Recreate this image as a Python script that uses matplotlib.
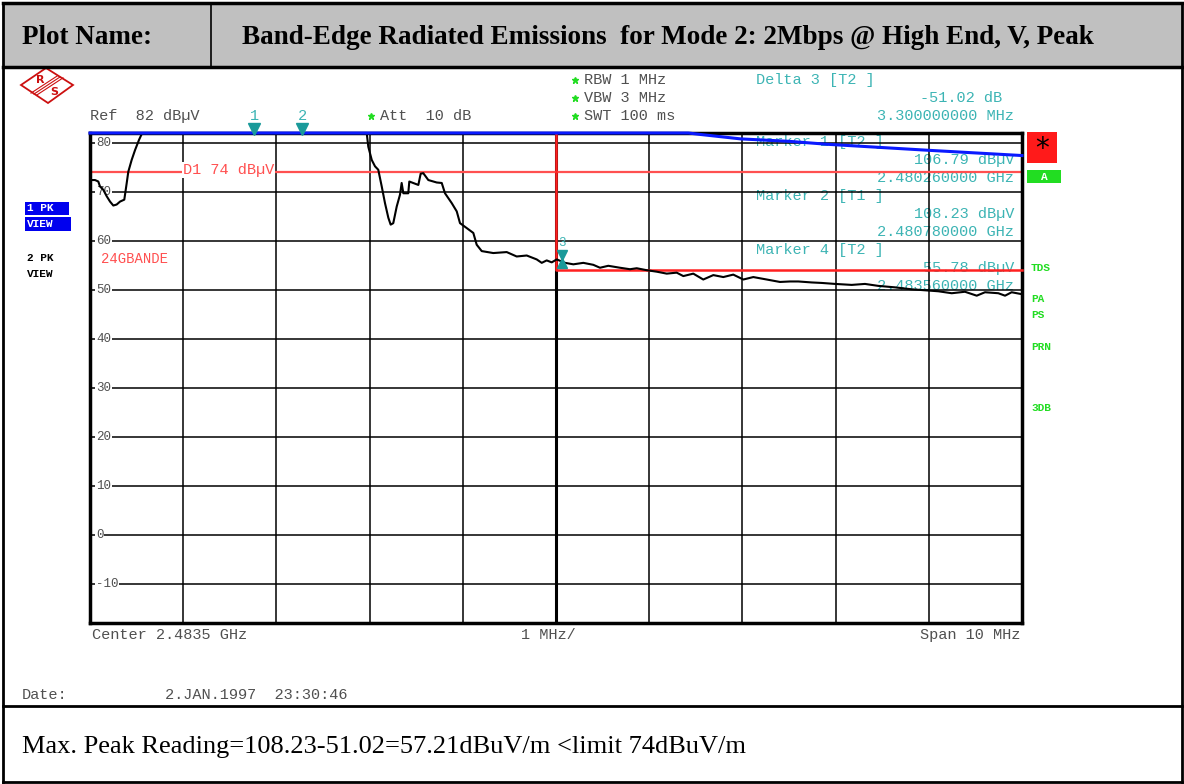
import numpy as np
import matplotlib
matplotlib.use("Agg")
import matplotlib.pyplot as plt
from matplotlib.patches import Rectangle, Polygon

# analyzer settings
center_mhz = 2483.5
span_mhz = 10.0
ref_level = 82
bottom_level = -18
grid_levels = [80, 70, 60, 50, 40, 30, 20, 10, 0, -10]
display_line = 74
limit_freq = 2483.5
limit_level = 54

# trace 2 (black) - MHz / dBuV
t2_freq = [2478.518, 2478.554, 2478.589, 2478.607, 2478.643, 2478.679, 2478.715,
           2478.750, 2478.786, 2478.822, 2478.868, 2478.894, 2478.911, 2478.947,
           2478.983, 2479.026, 2479.055, 2480.260, 2481.469, 2481.486, 2481.523,
           2481.558, 2481.593, 2481.630, 2481.665, 2481.701, 2481.726, 2481.754,
           2481.791, 2481.826, 2481.844, 2481.862, 2481.915, 2481.926, 2482.023,
           2482.048, 2482.076, 2482.130, 2482.220, 2482.274, 2482.309, 2482.381,
           2482.435, 2482.470, 2482.542, 2482.613, 2482.649, 2482.703, 2482.827,
           2482.971, 2483.078, 2483.186, 2483.293, 2483.347, 2483.400, 2483.454,
           2483.508, 2483.597, 2483.686, 2483.793, 2483.900, 2483.972, 2484.061,
           2484.187, 2484.294, 2484.366, 2484.473, 2484.580, 2484.688, 2484.795,
           2484.866, 2484.973, 2485.080, 2485.188, 2485.295, 2485.402, 2485.510,
           2485.617, 2485.761, 2485.903, 2486.011, 2486.100, 2486.244, 2486.351,
           2486.494, 2486.673, 2486.815, 2486.958, 2487.137, 2487.316, 2487.459,
           2487.602, 2487.746, 2487.888, 2488.014, 2488.103, 2488.246, 2488.318,
           2488.389, 2488.500]
t2_level = [72.4, 72.4, 72.1, 71.1, 70.4, 69.1, 68.0,
            67.2, 67.4, 68.0, 68.4, 71.8, 74.1, 76.5,
            78.5, 80.6, 81.8, 106.79, 82.0, 79.2, 76.5,
            75.2, 74.5, 71.1, 67.7, 64.7, 63.3, 63.6,
            67.0, 69.4, 71.8, 69.7, 69.7, 72.1, 71.4,
            73.7, 73.8, 72.4, 71.9, 71.8, 69.7, 67.7,
            66.0, 63.6, 62.6, 61.6, 59.2, 57.9, 57.5,
            57.7, 56.8, 57.0, 56.2, 55.5, 56.0, 55.6,
            56.2, 55.5, 55.2, 55.5, 55.1, 54.5, 54.9,
            54.5, 54.2, 54.4, 54.0, 53.7, 53.3, 53.5,
            52.8, 53.3, 52.1, 53.0, 52.6, 53.1, 52.1,
            52.6, 52.1, 51.6, 51.7, 51.7, 51.5, 51.4,
            51.2, 51.0, 51.2, 50.8, 50.5, 50.1, 49.9,
            49.7, 49.3, 49.6, 48.8, 49.5, 49.3, 48.8,
            49.5, 49.1]

# trace 1 (blue, max peak)
t1_freq = [2478.5, 2480.78, 2484.0, 2484.92, 2485.05, 2485.48, 2486.0, 2486.41, 2487.47, 2488.5]
t1_level = [95.0, 108.23, 86.0, 82.0, 81.7, 80.8, 80.3, 79.7, 78.5, 77.4]

marker_freq = [2480.26, 2480.78]
marker_names = ["1", "2"]
delta3_freq = 2483.56

# marker readout block (text, anchor, x, y in px)
readout = [
    ("Delta 3 [T2 ]", "left", 756, 80),
    ("-51.02 dB", "right", 1002, 98),
    ("3.300000000 MHz", "right", 1014, 116),
    ("Marker 1 [T2 ]", "left", 756, 142),
    ("106.79 dBµV", "right", 1014, 160),
    ("2.480260000 GHz", "right", 1014, 178),
    ("Marker 2 [T1 ]", "left", 756, 196),
    ("108.23 dBµV", "right", 1014, 214),
    ("2.480780000 GHz", "right", 1014, 232),
    ("Marker 4 [T2 ]", "left", 756, 250),
    ("55.78 dBµV", "right", 1014, 268),
    ("2.483560000 GHz", "right", 1014, 286),
]
side_labels = [("TDS", 268), ("PA", 299), ("PS", 315), ("PRN", 347), ("3DB", 408)]

W, H = 1184, 784
mono = "Liberation Mono"
serif = "Liberation Serif"
grey = "#505050"
teal = "#3cb4b4"
green = "#22dd22"
red_line = "#ff5050"
fs = 11

fig = plt.figure(figsize=(W / 100, H / 100), dpi=100)

# page layer in pixel coordinates
page = fig.add_axes([0, 0, 1, 1])
page.set_xlim(0, W)
page.set_ylim(H, 0)
page.axis("off")

# header row and frame
page.add_patch(Rectangle((3, 3), W - 5, 64, facecolor="#c0c0c0", edgecolor="none"))
page.plot([3, W - 2], [3, 3], color="black", lw=2.5)
page.plot([3, W - 2], [67, 67], color="black", lw=2.5)
page.plot([211, 211], [3, 67], color="black", lw=1.2)
page.plot([3, 3], [3, 782], color="black", lw=2)
page.plot([W - 2, W - 2], [3, 782], color="black", lw=2)
page.plot([3, W - 2], [706, 706], color="black", lw=2)
page.plot([3, W - 2], [782, 782], color="black", lw=2)
page.text(22, 37, "Plot Name:", fontsize=19.5, fontweight="bold", family=serif, va="center")
page.text(242, 37, "Band-Edge Radiated Emissions  for Mode 2: 2Mbps @ High End, V, Peak",
          fontsize=19.5, fontweight="bold", family=serif, va="center")
page.text(22, 747, "Max. Peak Reading=108.23-51.02=57.21dBuV/m <limit 74dBuV/m",
          fontsize=19, family=serif, va="center")

# R&S logo
page.add_patch(Polygon([[21, 85], [46, 68], [73, 85], [48, 103]], closed=True,
                       fill=False, edgecolor="#cc1010", lw=1.3))
for off in [-3, 0, 3]:
    page.plot([34 + off, 60 + off], [94 + off * 0.3, 77 + off * 0.3], color="#cc1010", lw=0.8)
page.text(40, 80, "R", color="#cc1010", fontsize=8, fontweight="bold", ha="center", va="center")
page.text(54, 92, "S", color="#cc1010", fontsize=8, fontweight="bold", ha="center", va="center")

# instrument settings
page.text(90, 116, "Ref  82 dBµV", family=mono, fontsize=fs, color=grey, va="center")
page.plot([371], [116], marker="*", color=green, ms=5)
page.text(380, 116, "Att  10 dB", family=mono, fontsize=fs, color=grey, va="center")
for i, s in enumerate(["RBW 1 MHz", "VBW 3 MHz", "SWT 100 ms"]):
    page.plot([575], [80 + 18 * i], marker="*", color=green, ms=5)
    page.text(584, 80 + 18 * i, s, family=mono, fontsize=fs, color=grey, va="center")

for s, ha, x, y in readout:
    page.text(x, y, s, family=mono, fontsize=fs, color=teal, ha=ha, va="center", zorder=1)

# trace labels on the left
page.add_patch(Rectangle((25, 202), 44, 13, facecolor="#0000ee", edgecolor="none"))
page.add_patch(Rectangle((25, 217), 46, 14, facecolor="#0000ee", edgecolor="none"))
page.text(27, 208, "1 PK", family=mono, fontsize=8, fontweight="bold", color="white", va="center")
page.text(27, 224, "VIEW", family=mono, fontsize=8, fontweight="bold", color="white", va="center")
page.text(27, 258, "2 PK", family=mono, fontsize=8, fontweight="bold", color="black", va="center")
page.text(27, 274, "VIEW", family=mono, fontsize=8, fontweight="bold", color="black", va="center")

# status boxes on the right
page.add_patch(Rectangle((1027, 132), 30, 31, facecolor="#ff1a1a", edgecolor="none"))
page.text(1042, 149, "*", fontsize=20, color="black", ha="center", va="center")
page.add_patch(Rectangle((1027, 170), 34, 13, facecolor=green, edgecolor="none"))
page.text(1044, 176.5, "A", family=mono, fontsize=8, fontweight="bold", color="white",
          ha="center", va="center")
for s, y in side_labels:
    page.text(1031, y, s, family=mono, fontsize=8, fontweight="bold", color=green, va="center")

# bottom annotations
page.text(92, 635, "Center 2.4835 GHz", family=mono, fontsize=fs, color=grey, va="center")
page.text(521, 635, "1 MHz/", family=mono, fontsize=fs, color=grey, va="center")
page.text(1020, 635, "Span 10 MHz", family=mono, fontsize=fs, color=grey, va="center", ha="right")
page.text(22, 695, "Date:", family=mono, fontsize=fs, color=grey, va="center")
page.text(165, 695, "2.JAN.1997  23:30:46", family=mono, fontsize=fs, color=grey, va="center")

# spectrum screen
ax = fig.add_axes([90 / W, (H - 623) / H, 932 / W, 490 / H])
ax.patch.set_alpha(0)
ax.set_xlim(center_mhz - span_mhz / 2, center_mhz + span_mhz / 2)
ax.set_ylim(bottom_level, ref_level)
ax.set_xticks(np.arange(center_mhz - span_mhz / 2, center_mhz + span_mhz / 2 + 0.01, 1.0))
ax.set_yticks(grid_levels)
ax.grid(True, color="black", lw=1.1)
ax.tick_params(length=0, labelbottom=False, labelleft=False)
for sp in ax.spines.values():
    sp.set_linewidth(2.5)
ax.axvline(center_mhz, color="black", lw=2.2)

f_left = center_mhz - span_mhz / 2
for lev in grid_levels:
    ax.text(f_left + 0.065, lev, str(lev), family=mono, fontsize=9, color=grey, va="center",
            bbox=dict(facecolor="white", edgecolor="none", pad=0.6), zorder=3)

# display line D1 and limit line
ax.axhline(display_line, color=red_line, lw=1.6, zorder=2)
ax.text(f_left + 1.0, display_line + 0.5, "D1 74 dBµV", family=mono, fontsize=fs,
        color=red_line, va="center", bbox=dict(facecolor="white", edgecolor="none", pad=0.5), zorder=3)
ax.plot([limit_freq, limit_freq, center_mhz + span_mhz / 2], [ref_level, limit_level, limit_level],
        color="#ff2020", lw=1.8, zorder=4, clip_on=False)
ax.text(f_left + 0.12, 56.3, "24GBANDE", family=mono, fontsize=10, color=red_line, va="center", zorder=3)

# traces, clipped to the reference level like on the screen
ax.plot(t2_freq, np.minimum(t2_level, ref_level), color="black", lw=1.5, zorder=5, clip_on=False)
ax.plot(t1_freq, np.minimum(t1_level, ref_level), color="#0a1aff", lw=2.2, zorder=6, clip_on=False)

# markers
for f, name in zip(marker_freq, marker_names):
    ax.plot([f], [82.9], marker="v", color="#1a9a9a", ms=8, clip_on=False, zorder=7)
    ax.text(f, 85.5, name, family=mono, fontsize=fs, color=teal, ha="center", va="center")
ax.plot([delta3_freq], [57.0], marker="v", color="#1a9a9a", ms=7, zorder=7)
ax.plot([delta3_freq], [55.4], marker="^", color="#1a9a9a", ms=7, zorder=7)
ax.text(delta3_freq, 59.6, "3", family=mono, fontsize=9, color=teal, ha="center", va="center")

fig.savefig("out.png", dpi=100)
